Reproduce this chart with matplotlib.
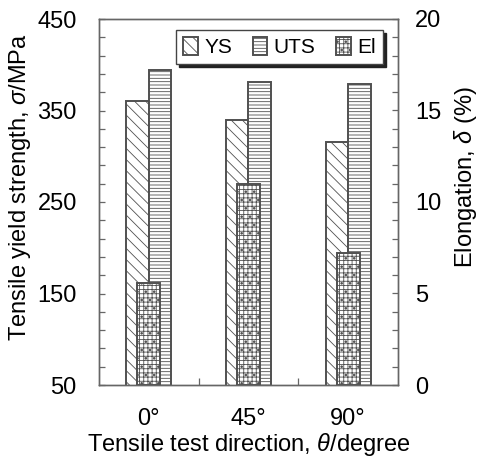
import matplotlib
matplotlib.use("Agg")
import matplotlib.pyplot as plt
import numpy as np

plt.rcParams['font.family'] = ['Liberation Sans', 'DejaVu Sans']
plt.rcParams['mathtext.fontset'] = 'custom'
plt.rcParams['mathtext.it'] = 'Liberation Sans:italic'
plt.rcParams['mathtext.rm'] = 'Liberation Sans'
plt.rcParams['hatch.linewidth'] = 0.6

# data
directions = ['0°', '45°', '90°']
ys = [360, 340, 316]        # MPa
uts = [394, 381, 379]       # MPa
elong = [5.6, 11.0, 7.2]    # %

edge = '#505050'
x = np.arange(len(directions))
w = 0.225

fig = plt.figure(figsize=(4.78, 4.63), dpi=100)
ax = fig.add_axes([99 / 478, 1 - 385 / 463, 299 / 478, 366 / 463])
ax2 = ax.twinx()

b1 = ax.bar(x - w / 2, ys, w, color='white', edgecolor=edge,
            hatch='\\\\\\', linewidth=1.4, label='YS')
b2 = ax.bar(x + w / 2, uts, w, color='white', edgecolor=edge,
            hatch='-----', linewidth=1.4, label='UTS')
b3 = ax2.bar(x, elong, w * 1.02, color='white', edgecolor=edge,
             hatch='++++..', linewidth=1.4, label='El')

ax.set_xlim(-0.5, 2.5)
ax.set_ylim(50, 450)
ax2.set_ylim(0, 20)

ax.set_yticks([50, 150, 250, 350, 450])
ax.set_yticks(np.arange(50, 451, 20), minor=True)
ax2.set_yticks([0, 5, 10, 15, 20])
ax2.set_yticks(np.arange(0, 21, 1), minor=True)
ax.set_xticks(x)
ax.set_xticklabels(directions)
ax.set_xticks([0.5, 1.5], minor=True)

ax.tick_params(axis='y', which='both', direction='in', length=4, width=0.9,
               color='#666666', labelsize=17, pad=16)
ax2.tick_params(axis='y', which='both', direction='in', length=4, width=0.9,
                color='#666666', labelsize=17, pad=12.5)
ax.tick_params(axis='x', which='major', length=0, labelsize=17, pad=16.5)
ax.tick_params(axis='x', which='minor', direction='in', length=5, width=0.9,
               color='#666666')

for a in (ax, ax2):
    for s in a.spines.values():
        s.set_color('#666666')
        s.set_linewidth(1.0)

ax.set_ylabel(r'Tensile yield strength, $\sigma$/MPa', fontsize=17)
ax.yaxis.set_label_coords(-0.222, 0.541)
ax2.set_ylabel(r'Elongation, $\delta$ (%)', fontsize=17)
ax2.yaxis.set_label_coords(1.182, 0.568)
ax.set_xlabel(r'Tensile test direction, $\theta$/degree', fontsize=17, labelpad=1)

leg = ax2.legend([b1, b2, b3], ['YS', 'UTS', 'El'], ncol=3, loc='upper right',
                 bbox_to_anchor=(0.95, 0.97), borderaxespad=0, fontsize=15,
                 frameon=True, fancybox=False,
                 shadow={'color': '#222222', 'alpha': 1.0},
                 handlelength=0.7, handleheight=0.9, handletextpad=0.3,
                 columnspacing=1.0, borderpad=0.35)
leg.get_frame().set_edgecolor('#444444')
leg.get_frame().set_linewidth(1.0)

fig.savefig('out.png', dpi=100)
